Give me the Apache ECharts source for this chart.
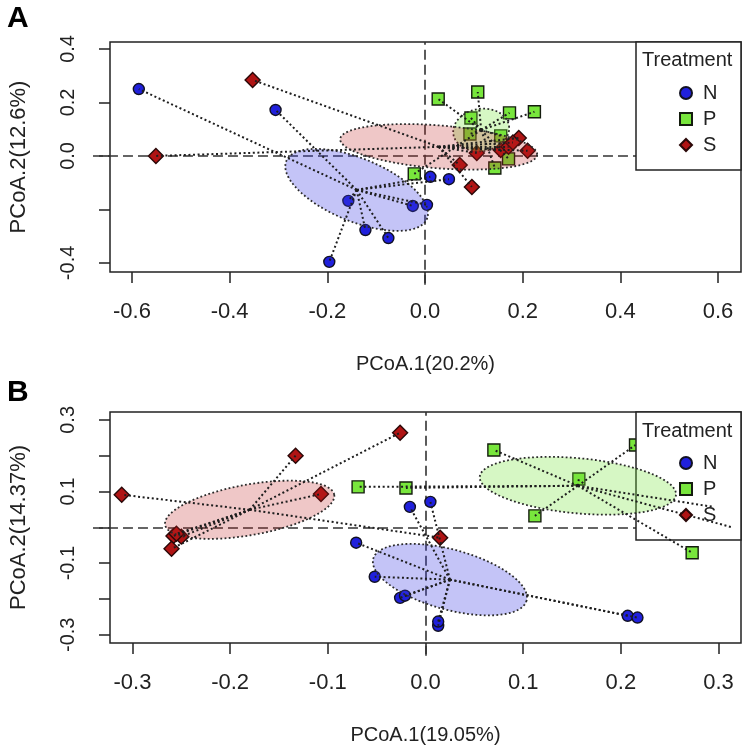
<!DOCTYPE html>
<html>
<head>
<meta charset="utf-8">
<script src="https://cdn.jsdelivr.net/npm/echarts@6/dist/echarts.min.js"></script>
<style>html,body{margin:0;padding:0;background:#fff}#c{width:747px;height:754px}</style>
</head>
<body>
<div id="c"></div>
<script>
// ---------------- data ----------------
const groups = ['N', 'P', 'S'];
const panelLabels = ['A', 'B'];
const legendTitle = 'Treatment';
const xNames = ['PCoA.1(20.2%)', 'PCoA.1(19.05%)'];
const yNames = ['PCoA.2(12.6%)', 'PCoA.2(14.37%)'];

// axis limits
const xRangeA = [-0.645, 0.647];
const yRangeA = [-0.434, 0.426];
const xRangeB = [-0.323, 0.323];
const yRangeB = [-0.323, 0.322];

// tick positions and labelled ticks
const xTicksA = [-0.6, -0.4, -0.2, 0, 0.2, 0.4, 0.6];
const yTicksA = [-0.4, -0.2, 0, 0.2, 0.4];
const yLabelsA = [-0.4, 0, 0.2, 0.4];
const xTicksB = [-0.3, -0.2, -0.1, 0, 0.1, 0.2, 0.3];
const yTicksB = [-0.3, -0.2, -0.1, 0, 0.1, 0.2, 0.3];
const yLabelsB = [-0.3, -0.1, 0.1, 0.3];

// Panel A points
const aN = [[-0.586,0.250],[-0.306,0.172],[-0.157,-0.168],[-0.122,-0.277],[-0.196,-0.396],
            [-0.075,-0.307],[-0.025,-0.187],[0.004,-0.183],[0.011,-0.078],[0.049,-0.087]];
const aP = [[0.027,0.213],[0.108,0.239],[0.173,0.161],[0.224,0.165],[0.094,0.142],
            [0.092,0.082],[0.155,0.075],[0.171,-0.011],[0.143,-0.045],[-0.022,-0.067]];
const aS = [[-0.353,0.284],[-0.551,0.000],[0.071,-0.034],[0.096,-0.116],[0.106,0.011],
            [0.155,0.022],[0.171,0.034],[0.192,0.067],[0.210,0.019],[0.180,0.050]];
// Panel A group centroids
const aCent = {N: [-0.140,-0.127], P: [0.115,0.097], S: [0.028,0.034]};
// Panel A ellipses: [cx, cy, ux, uy, vx, vy] (centre + two conjugate semi-axes)
const aEll = {
  N: [-0.140,-0.127, 0.1447,-0.1047, -0.0204,-0.1121],
  P: [0.115,0.097, 0.057,0.015, 0.006,-0.0785],
  S: [0.028,0.034, 0.2017,-0.028, 0.0,0.0804]
};

// Panel B points
const bN = [[-0.016,0.057],[0.005,0.071],[-0.071,-0.043],[-0.052,-0.138],[-0.026,-0.197],
            [-0.021,-0.191],[0.013,-0.275],[0.013,-0.263],[0.207,-0.247],[0.217,-0.252]];
const bP = [[-0.069,0.113],[-0.020,0.110],[0.070,0.216],[0.157,0.135],[0.112,0.032],
            [0.215,0.230],[0.273,-0.071],[0.295,0.057],[0.314,0.000]];
const bS = [[-0.311,0.091],[-0.133,0.200],[-0.107,0.093],[-0.258,-0.024],[-0.250,-0.026],
            [-0.260,-0.060],[-0.026,0.264],[0.015,-0.029],[-0.255,-0.018]];
const bCent = {N: [0.025,-0.146], P: [0.156,0.116], S: [-0.180,0.049]};
const bEll = {
  N: [0.025,-0.146, 0.0785,-0.0586, -0.0082,-0.0809],
  P: [0.156,0.116, 0.1005,-0.025, -0.002,-0.0768],
  S: [-0.180,0.049, 0.0866,0.0418, 0.0041,-0.0697]
};

// ---------------- styles ----------------
const FONT = "'Liberation Sans', Arial, Helvetica, sans-serif";
const INK = '#222';
const marker = {
  N: {symbol: 'circle', size: 11, color: '#2020dc', border: '#111122'},
  P: {symbol: 'rect', size: 12, color: '#78e63c', border: '#141c0e'},
  S: {symbol: 'diamond', size: 15, color: '#b01414', border: '#2a0808'}
};
const ellFill = {N: 'rgba(60,60,230,0.30)', P: 'rgba(120,230,60,0.30)', S: 'rgba(190,30,30,0.25)'};

const grids = [
  {left: 107, top: 42, width: 634, height: 230},
  {left: 107, top: 412, width: 634, height: 231}
];

function xAxis(gi, range, ticks, name) {
  return {
    type: 'value', gridIndex: gi, min: range[0], max: range[1], position: 'bottom',
    name: name, nameLocation: 'middle', nameGap: 82,
    nameTextStyle: {fontFamily: FONT, fontSize: 20, color: INK},
    axisLine: {show: false, onZero: false},
    axisTick: {show: true, inside: false, length: 11, customValues: ticks, lineStyle: {color: INK, width: 1.5}},
    axisLabel: {show: true, customValues: ticks, margin: 29, fontFamily: FONT, fontSize: 22, color: INK,
                formatter: v => v.toFixed(1)},
    splitLine: {show: false}
  };
}
function yAxis(gi, range, ticks, labels, name) {
  return {
    type: 'value', gridIndex: gi, min: range[0], max: range[1], position: 'left',
    name: name, nameLocation: 'middle', nameGap: 80,
    nameTextStyle: {fontFamily: FONT, fontSize: 22, color: INK},
    axisLine: {show: false, onZero: false},
    axisTick: {show: true, inside: false, length: 11, customValues: ticks, lineStyle: {color: INK, width: 1.5}},
    axisLabel: {show: true, customValues: labels, rotate: 90, margin: 32, fontFamily: FONT, fontSize: 20, color: INK,
                formatter: v => v.toFixed(1)},
    splitLine: {show: false}
  };
}

function ellipseRender(params, api) {
  const cx = api.value(0), cy = api.value(1), ux = api.value(2), uy = api.value(3), vx = api.value(4), vy = api.value(5);
  const pts = [];
  for (let k = 0; k < 90; k++) {
    const t = k / 90 * 2 * Math.PI;
    pts.push(api.coord([cx + ux * Math.cos(t) + vx * Math.sin(t), cy + uy * Math.cos(t) + vy * Math.sin(t)]));
  }
  return {
    type: 'polygon', shape: {points: pts},
    style: {fill: api.visual('color'), stroke: '#2a2a2a', lineWidth: 1.8, lineDash: [1.8, 2.4]}
  };
}

function panelSeries(gi, pts, cent, ell, xr, yr) {
  const s = [];
  // zero reference lines (dashed), slightly extended past the box as in the original
  const ex = (xr[1] - xr[0]) * 0.027, ey = (yr[1] - yr[0]) * 0.055;
  s.push({
    type: 'lines', coordinateSystem: 'cartesian2d', xAxisIndex: gi, yAxisIndex: gi, z: 1, silent: true, clip: false,
    lineStyle: {color: '#333', width: 1.6, type: [10, 5], opacity: 1},
    data: [{coords: [[xr[0] - ex, 0], [xr[1], 0]]}, {coords: [[0, yr[0] - ey], [0, yr[1]]]}]
  });
  groups.forEach(g => {
    const m = marker[g];
    s.push({
      name: g, type: 'scatter', xAxisIndex: gi, yAxisIndex: gi, z: 2,
      symbol: m.symbol, symbolSize: m.size,
      itemStyle: {color: m.color, borderColor: m.border, borderWidth: 1.4, opacity: 1},
      data: pts[g]
    });
  });
  groups.forEach(g => {
    s.push({
      name: g + ' ellipse', type: 'custom', xAxisIndex: gi, yAxisIndex: gi, z: 4, silent: true,
      renderItem: ellipseRender, itemStyle: {color: ellFill[g]},
      dimensions: ['cx', 'cy', 'ux', 'uy', 'vx', 'vy'], encode: {x: 0, y: 1},
      data: [ell[g]]
    });
  });
  groups.forEach(g => {
    s.push({
      name: g + ' spider', type: 'lines', coordinateSystem: 'cartesian2d', xAxisIndex: gi, yAxisIndex: gi, z: 5,
      silent: true, clip: false,
      lineStyle: {color: '#1e1e1e', width: 2, type: [2, 2.6], opacity: 1},
      data: pts[g].map(p => ({coords: [cent[g], p]}))
    });
  });
  return s;
}

function legendCfg(top) {
  return {
    show: true, orient: 'vertical', left: 679, top: top, itemWidth: 12, itemHeight: 12, itemGap: 6,
    selectedMode: false, z: 6, padding: 0,
    textStyle: {fontFamily: FONT, fontSize: 20, color: INK, padding: [0, 0, 0, 6]},
    data: groups
  };
}

const chart = echarts.init(document.getElementById('c'), null, {renderer: 'canvas'});
chart.setOption({
  animation: false,
  backgroundColor: '#fff',
  title: [
    {text: panelLabels[0], left: 7, top: 4, padding: 0, textStyle: {fontFamily: FONT, fontSize: 30, fontWeight: 'bold', color: '#000'}},
    {text: panelLabels[1], left: 7, top: 378, padding: 0, textStyle: {fontFamily: FONT, fontSize: 30, fontWeight: 'bold', color: '#000'}},
    {text: legendTitle, left: 642, top: 50, padding: 0, z: 6, textStyle: {fontFamily: FONT, fontSize: 20, fontWeight: 'normal', color: INK}},
    {text: legendTitle, left: 642, top: 421, padding: 0, z: 6, textStyle: {fontFamily: FONT, fontSize: 20, fontWeight: 'normal', color: INK}}
  ],
  grid: grids.map(g => Object.assign({show: true, borderColor: INK, borderWidth: 1.5, backgroundColor: 'transparent'}, g)),
  xAxis: [xAxis(0, xRangeA, xTicksA, xNames[0]), xAxis(1, xRangeB, xTicksB, xNames[1])],
  yAxis: [yAxis(0, yRangeA, yTicksA, yLabelsA, yNames[0]), yAxis(1, yRangeB, yTicksB, yLabelsB, yNames[1])],
  legend: [legendCfg(83), legendCfg(453)],
  graphic: [
    {type: 'rect', z: 3, silent: true, shape: {x: 636, y: 42, width: 105, height: 128}, style: {fill: '#fff', stroke: INK, lineWidth: 1.5}},
    {type: 'rect', z: 3, silent: true, shape: {x: 636, y: 412, width: 105, height: 128}, style: {fill: '#fff', stroke: INK, lineWidth: 1.5}}
  ],
  series: [].concat(
    panelSeries(0, {N: aN, P: aP, S: aS}, aCent, aEll, xRangeA, yRangeA),
    panelSeries(1, {N: bN, P: bP, S: bS}, bCent, bEll, xRangeB, yRangeB)
  )
});
</script>
</body>
</html>
